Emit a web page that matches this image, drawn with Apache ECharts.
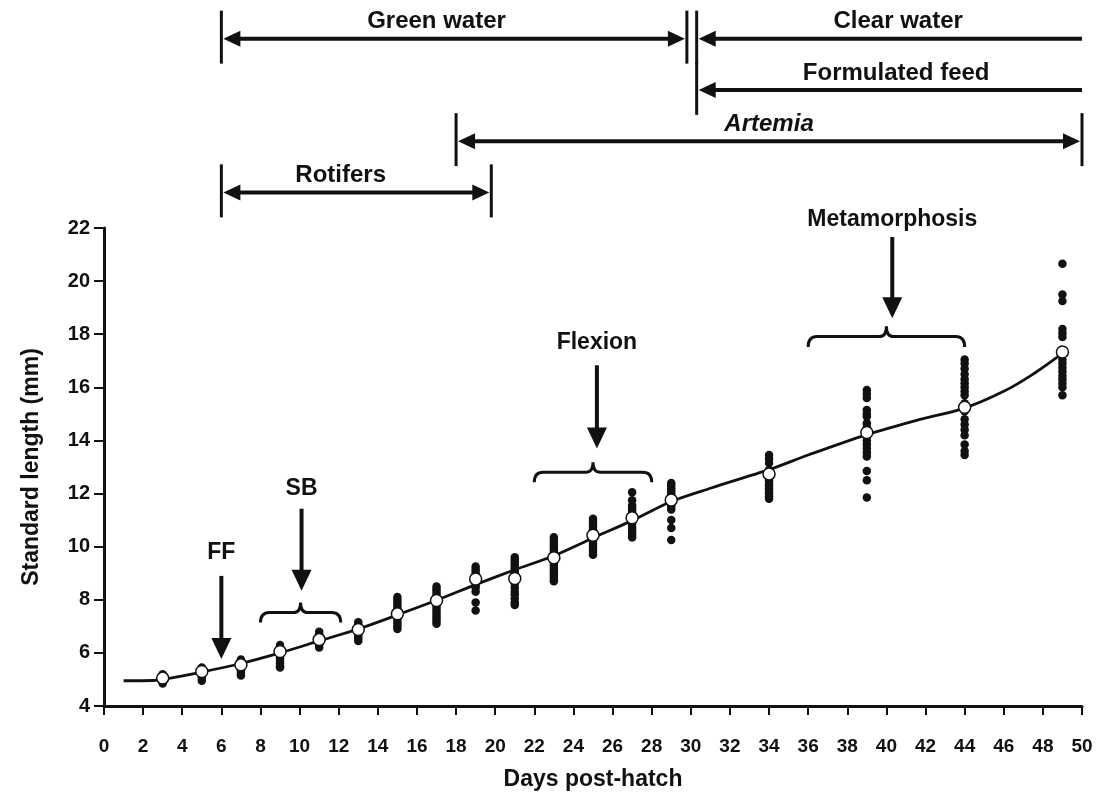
<!DOCTYPE html>
<html><head><meta charset="utf-8">
<script src="https://cdn.jsdelivr.net/npm/echarts@6/dist/echarts.min.js"></script>
<style>html,body{margin:0;padding:0;background:#fff}#c{width:1097px;height:803px}</style>
</head><body><div id="c"></div>
<script>
// ---- data ----
const days = [3,5,7,9,11,13,15,17,19,21,23,25,27,29,34,39,44,49];
const meanLength = [5.05,5.3,5.55,6.05,6.5,6.88,7.47,7.97,8.78,8.8,9.58,10.43,11.09,11.76,12.74,14.3,15.25,17.33];
const individualLengths = [
  [5.2,5.1,5.0,4.95,4.9,4.85],
  [5.45,5.35,5.25,5.15,5.05,4.95],
  [5.75,5.65,5.55,5.45,5.35,5.25,5.15],
  [6.3,6.2,6.1,6.0,5.9,5.8,5.7,5.6,5.5,5.45],
  [6.8,6.7,6.6,6.5,6.4,6.3,6.2],
  [7.15,7.05,6.95,6.85,6.75,6.65,6.55,6.45],
  [8.1,8.0,7.9,7.8,7.7,7.6,7.5,7.4,7.3,7.2,7.1,7.0,6.9],
  [8.5,8.4,8.3,8.2,8.1,8.0,7.9,7.8,7.7,7.6,7.5,7.4,7.3,7.2,7.1],
  [9.25,9.15,9.05,8.95,8.85,8.75,8.65,8.55,8.45,8.3,7.9,7.6],
  [9.6,9.5,9.4,9.3,9.2,9.1,9.0,8.9,8.7,8.6,8.45,8.3,8.2,8.05,7.9,7.8],
  [10.35,10.25,10.15,10.05,9.95,9.85,9.75,9.65,9.5,9.4,9.3,9.2,9.1,9.0,8.9,8.8,8.7],
  [11.05,10.95,10.85,10.75,10.65,10.55,10.45,10.3,10.2,10.1,10.0,9.9,9.8,9.7],
  [12.05,11.75,11.55,11.45,11.35,11.25,11.15,11.05,10.95,10.85,10.75,10.65,10.55,10.45,10.35],
  [12.4,12.3,12.2,12.1,12.0,11.9,11.8,11.7,11.6,11.5,11.4,11.0,10.7,10.25],
  [13.45,13.3,13.15,12.9,12.6,12.5,12.4,12.3,12.2,12.1,12.0,11.9,11.8],
  [15.9,15.75,15.6,15.15,15.0,14.9,14.65,14.5,14.15,14.0,13.85,13.7,13.55,13.4,12.85,12.5,11.85],
  [17.05,16.9,16.7,16.5,16.3,16.15,16.0,15.85,15.7,15.4,15.1,14.8,14.6,14.4,14.2,13.85,13.6,13.45],
  [20.65,19.5,19.25,18.2,18.05,17.9,17.05,16.9,16.75,16.6,16.45,16.3,16.15,16.0,15.7]
];
const curveDays =   [1,2.5,3,5,7,9,11,13,15,17,19,21,23,25,27,29,31,34,36,39,41.5,44,46,47.5,49];
const curveLength = [4.95,4.96,5.0,5.28,5.6,6.0,6.45,6.9,7.43,7.98,8.57,9.13,9.66,10.33,10.98,11.7,12.2,12.9,13.45,14.22,14.75,15.22,15.85,16.5,17.28];

const phaseNames    = ['Green water','Clear water','Formulated feed','Artemia','Rotifers'];
const phaseStart    = [6, 30.3, 30.3, 18, 6];
const phaseEnd      = [29.8, 50, 50, 50, 19.8];
const phaseRow      = [0, 0, 1, 2, 3];
const phaseLabelDay = [17.0, 40.6, 40.5, 34, 12.1];
const phaseEndCap   = [true, false, false, true, true];
const phaseItalic   = [false, false, false, true, false];

const eventNames      = ['FF','SB','Flexion','Metamorphosis'];
const eventDay        = [6, 10.1, 25.2, 40.3];
const eventLabelY     = [9.77, 12.19, 17.7, 22.3];
const eventArrowTop   = [8.9, 11.43, 16.83, 21.66];
const eventArrowTip   = [5.77, 8.34, 13.7, 18.6];
const braceStart      = [null, 8, 22, 36];
const braceEnd        = [null, 12.1, 28, 44];
const braceTop        = [null, 7.9, 13.18, 18.3];
const braceBottom     = [null, 7.14, 12.43, 17.52];

// ---- chart ----
const FONT = '"Liberation Sans", Arial, sans-serif';
const INK = '#111';
const chart = echarts.init(document.getElementById('c'));

const dots = [];
days.forEach((d, i) => individualLengths[i].forEach(v => dots.push([d, v])));

function arrowHead(tipX, tipY, dx, dy, len, half) {
  const bx = tipX - dx * len, by = tipY - dy * len;
  const px = -dy, py = dx;
  return [[tipX, tipY], [bx + px * half, by + py * half], [bx - px * half, by - py * half]];
}

function renderPhase(params, api) {
  const i = params.dataIndex;
  const p0 = api.coord([phaseStart[i], phaseRow[i]]);
  const p1 = api.coord([phaseEnd[i], phaseRow[i]]);
  const y = p0[1];
  const children = [];
  const lineStart = p0[0] + 10;
  const lineEnd = phaseEndCap[i] ? p1[0] - 10 : p1[0];
  children.push({type:'line', shape:{x1:lineStart, y1:y, x2:lineEnd, y2:y}, style:{stroke:INK, lineWidth:4}});
  children.push({type:'polygon', shape:{points: arrowHead(p0[0] + 2, y, -1, 0, 17, 8)}, style:{fill:INK}});
  children.push({type:'line', shape:{x1:p0[0], y1:y - 28, x2:p0[0], y2:y + 25}, style:{stroke:INK, lineWidth:3}});
  if (phaseEndCap[i]) {
    children.push({type:'polygon', shape:{points: arrowHead(p1[0] - 2, y, 1, 0, 17, 8)}, style:{fill:INK}});
    children.push({type:'line', shape:{x1:p1[0], y1:y - 28, x2:p1[0], y2:y + 25}, style:{stroke:INK, lineWidth:3}});
  }
  const lp = api.coord([phaseLabelDay[i], phaseRow[i]]);
  children.push({type:'text', x: lp[0], y: lp[1] - 17, style:{text: phaseNames[i], fill: INK,
    font: (phaseItalic[i] ? 'italic ' : '') + 'bold 24px ' + FONT, align:'center', verticalAlign:'middle'}});
  return {type:'group', children};
}

function renderEvent(params, api) {
  const i = params.dataIndex;
  const children = [];
  const top = api.coord([eventDay[i], eventArrowTop[i]]);
  const tip = api.coord([eventDay[i], eventArrowTip[i]]);
  children.push({type:'line', shape:{x1:top[0], y1:top[1], x2:tip[0], y2:tip[1] - 15}, style:{stroke:INK, lineWidth:4}});
  children.push({type:'polygon', shape:{points: arrowHead(tip[0], tip[1], 0, 1, 21, 10)}, style:{fill:INK}});
  const lab = api.coord([eventDay[i], eventLabelY[i]]);
  children.push({type:'text', x: lab[0], y: lab[1], style:{text: eventNames[i], fill: INK,
    font: 'bold 23px ' + FONT, align:'center', verticalAlign:'middle'}});
  if (braceStart[i] !== null) {
    const a = api.coord([braceStart[i], braceBottom[i]]);
    const b = api.coord([braceEnd[i], braceBottom[i]]);
    const t = api.coord([(braceStart[i] + braceEnd[i]) / 2, braceTop[i]]);
    const x0 = a[0], x1 = b[0], yB = a[1], yT = t[1], xm = t[0];
    const yF = yT + (yB - yT) * 0.5;
    const r = 9, rm = 7;
    const d = `M${x0},${yB} Q${x0},${yF} ${x0 + r},${yF} L${xm - rm},${yF} Q${xm},${yF} ${xm},${yT} ` +
              `Q${xm},${yF} ${xm + rm},${yF} L${x1 - r},${yF} Q${x1},${yF} ${x1},${yB}`;
    children.push({type:'path', shape:{pathData: d}, style:{stroke: INK, lineWidth: 3, fill: null}});
  }
  return {type:'group', children};
}

const option = {
  backgroundColor: '#fff',
  animation: false,
  grid: [
    {left: 104, right: 15, top: 228, bottom: 97},
    {left: 104, right: 15, top: 13, height: 205}
  ],
  xAxis: [
    {type:'value', gridIndex:0, min:0, max:50, interval:2,
     name:'Days post-hatch', nameLocation:'middle', nameGap:62,
     nameTextStyle:{fontFamily:FONT, fontWeight:'bold', fontSize:23, color:INK},
     axisLine:{show:true, onZero:false, lineStyle:{color:INK, width:3}},
     axisTick:{show:true, length:9, lineStyle:{color:INK, width:2}},
     axisLabel:{fontFamily:FONT, fontWeight:'bold', fontSize:19, color:INK, margin:31},
     splitLine:{show:false}},
    {type:'value', gridIndex:1, min:0, max:50, show:false}
  ],
  yAxis: [
    {type:'value', gridIndex:0, min:4, max:22, interval:2,
     name:'Standard length (mm)', nameLocation:'middle', nameGap:61,
     nameTextStyle:{fontFamily:FONT, fontWeight:'bold', fontSize:23, color:INK},
     axisLine:{show:true, onZero:false, lineStyle:{color:INK, width:3}},
     axisTick:{show:true, length:10, lineStyle:{color:INK, width:2}},
     axisLabel:{fontFamily:FONT, fontWeight:'bold', fontSize:20, color:INK, margin:14},
     splitLine:{show:false}},
    {type:'category', gridIndex:1, data:['r0','r1','r2','r3'], inverse:true, show:false}
  ],
  series: [
    {type:'scatter', xAxisIndex:0, yAxisIndex:0, data: dots, symbolSize:8.5,
     itemStyle:{color:INK, opacity:1}, z:2, silent:true},
    {type:'line', xAxisIndex:0, yAxisIndex:0, data: curveDays.map((d,i)=>[d, curveLength[i]]),
     smooth:0.3, showSymbol:false, lineStyle:{color:INK, width:2.8}, z:3, silent:true},
    {type:'scatter', xAxisIndex:0, yAxisIndex:0, data: days.map((d,i)=>[d, meanLength[i]]),
     symbol:'circle', symbolSize:12, itemStyle:{color:'#fff', borderColor:INK, borderWidth:1.5, opacity:1}, z:4, silent:true},
    {type:'custom', xAxisIndex:0, yAxisIndex:0, clip:false, data: eventNames.map((n,i)=>[eventDay[i], eventArrowTip[i]]),
     renderItem: renderEvent, z:5, silent:true},
    {type:'custom', xAxisIndex:1, yAxisIndex:1, clip:false, data: phaseNames.map((n,i)=>[phaseStart[i], phaseRow[i]]),
     renderItem: renderPhase, z:5, silent:true}
  ]
};
chart.setOption(option);
</script>
</body></html>
